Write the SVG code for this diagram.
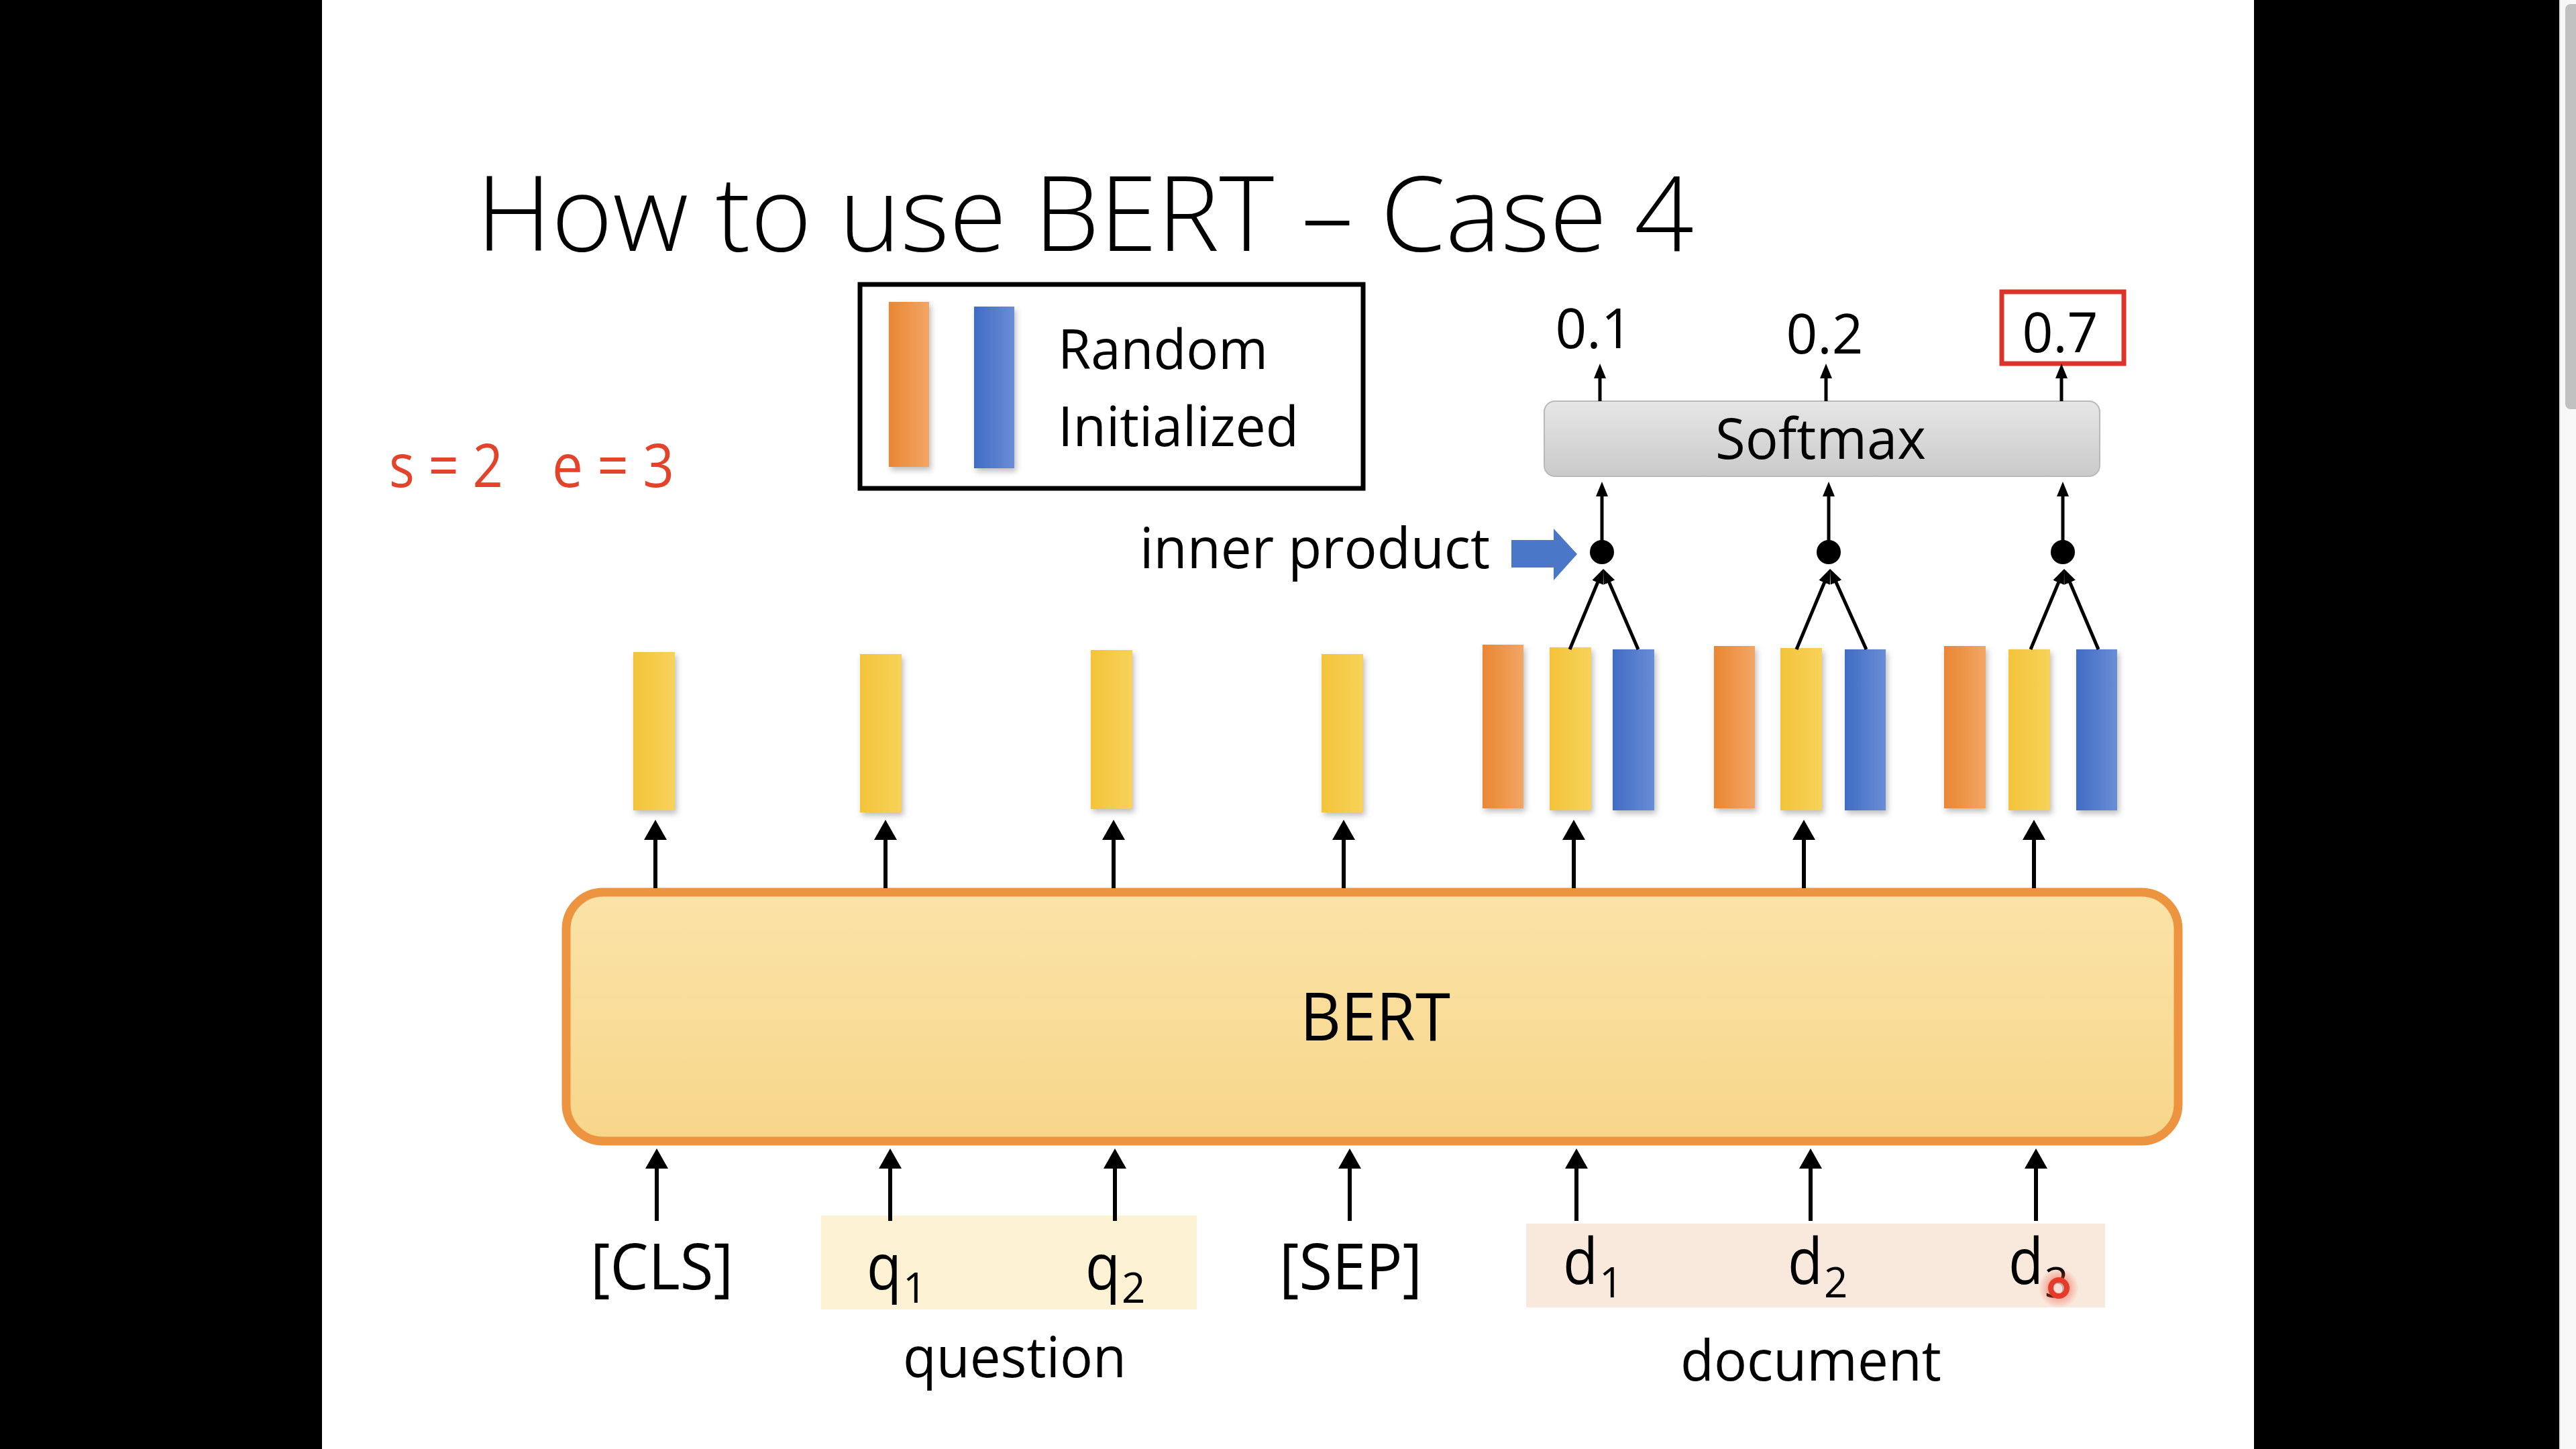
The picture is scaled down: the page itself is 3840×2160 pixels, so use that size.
<svg xmlns="http://www.w3.org/2000/svg" width="3840" height="2160" viewBox="0 0 3840 2160">
<defs>
<style>
.t{font-family:"Open Sans","Liberation Sans",sans-serif;fill:#000}
.ln{stroke:#000;stroke-width:6;fill:none}
.ls{stroke:#000;stroke-width:5;fill:none}
.bar{filter:url(#sh)}
</style>
<linearGradient id="gy" x1="0" y1="0" x2="1" y2="0"><stop offset="0" stop-color="#f3c43a"/><stop offset="1" stop-color="#f7d25a"/></linearGradient>
<linearGradient id="go" x1="0" y1="0" x2="1" y2="0"><stop offset="0" stop-color="#ea8633"/><stop offset="1" stop-color="#f2a665"/></linearGradient>
<linearGradient id="gb" x1="0" y1="0" x2="1" y2="0"><stop offset="0" stop-color="#406cc4"/><stop offset="1" stop-color="#6a8dd5"/></linearGradient>
<linearGradient id="gs" x1="0" y1="0" x2="0" y2="1"><stop offset="0" stop-color="#e6e6e6"/><stop offset="1" stop-color="#cacaca"/></linearGradient>
<linearGradient id="gbert" x1="0" y1="0" x2="0" y2="1"><stop offset="0" stop-color="#fae3a8"/><stop offset="1" stop-color="#f7d689"/></linearGradient>
<filter id="sh" x="-40%" y="-10%" width="180%" height="130%"><feDropShadow dx="3" dy="5" stdDeviation="4" flood-color="#000" flood-opacity="0.25"/></filter>
<radialGradient id="glow"><stop offset="0.5" stop-color="#f05a48" stop-opacity="0.45"/><stop offset="1" stop-color="#f05a48" stop-opacity="0"/></radialGradient>
<marker id="ah" markerUnits="userSpaceOnUse" markerWidth="30" markerHeight="34" refX="15" refY="17" orient="auto"><path d="M0,0 L30,17 L0,34 z" fill="#000"/></marker>
<marker id="as" markerUnits="userSpaceOnUse" markerWidth="22" markerHeight="18" refX="11" refY="9" orient="auto"><path d="M0,0 L22,9 L0,18 z" fill="#000"/></marker>
</defs>

<!-- frame -->
<rect x="0" y="0" width="3840" height="2160" fill="#000"/>
<rect x="480" y="0" width="2880" height="2160" fill="#fff"/>
<g id="scrollbar">
<rect x="3815" y="0" width="25" height="2160" fill="#f8f8f8"/>
<line x1="3816" y1="0" x2="3816" y2="2160" stroke="#e4e4e4" stroke-width="2"/>
<rect x="3824" y="6" width="26" height="604" rx="8" fill="#c1c1c1"/>
</g>

<g id="title"><text class="t" x="710" y="374" font-size="155" font-weight="300" textLength="1815" lengthAdjust="spacingAndGlyphs">How to use BERT – Case 4</text></g>

<g id="params">
<text class="t" x="580" y="726" font-size="90" style="fill:#e2432a" textLength="170" lengthAdjust="spacingAndGlyphs">s = 2</text>
<text class="t" x="823" y="726" font-size="90" style="fill:#e2432a" textLength="182" lengthAdjust="spacingAndGlyphs">e = 3</text>
</g>

<g id="legend">
<rect x="1282" y="424" width="750" height="304" fill="#fff" stroke="#000" stroke-width="7"/>
<rect class="bar" x="1325" y="450" width="60" height="246" fill="url(#go)"/>
<rect class="bar" x="1452" y="457" width="60" height="241" fill="url(#gb)"/>
<text class="t" x="1577" y="550" font-size="83" textLength="313" lengthAdjust="spacingAndGlyphs">Random</text>
<text class="t" x="1577" y="665" font-size="83" textLength="359" lengthAdjust="spacingAndGlyphs">Initialized</text>
</g>

<g id="outputs">
<text class="t" x="2376" y="519" font-size="82" text-anchor="middle" textLength="115" lengthAdjust="spacingAndGlyphs">0.1</text>
<text class="t" x="2720" y="527" font-size="82" text-anchor="middle" textLength="115" lengthAdjust="spacingAndGlyphs">0.2</text>
<rect x="2984" y="435" width="182" height="107" fill="none" stroke="#d9352a" stroke-width="7"/>
<text class="t" x="3071" y="525" font-size="82" text-anchor="middle" textLength="113" lengthAdjust="spacingAndGlyphs">0.7</text>
</g>

<g id="softmax">
<rect x="2302" y="598" width="828" height="112" rx="16" fill="url(#gs)" stroke="#b9b9b9" stroke-width="2"/>
<text class="t" x="2714" y="684" font-size="85" text-anchor="middle" textLength="314" lengthAdjust="spacingAndGlyphs">Softmax</text>
</g>

<g id="inner-product">
<text class="t" x="1699" y="847" font-size="85" textLength="522" lengthAdjust="spacingAndGlyphs">inner product</text>
<polygon points="2253,805 2316,805 2316,788 2351,826 2316,865 2316,846 2253,846" fill="#4a77c8"/>
</g>

<g id="dots">
<circle cx="2388" cy="823" r="18" fill="#000"/>
<circle cx="2726" cy="823" r="18" fill="#000"/>
<circle cx="3075" cy="823" r="18" fill="#000"/>
</g>

<g id="bars">
<rect class="bar" x="944" y="972" width="62" height="236" fill="url(#gy)"/>
<rect class="bar" x="1282" y="975" width="62" height="236" fill="url(#gy)"/>
<rect class="bar" x="1626" y="969" width="62" height="237" fill="url(#gy)"/>
<rect class="bar" x="1970" y="975" width="62" height="236" fill="url(#gy)"/>
<rect class="bar" x="2210" y="961" width="61" height="244" fill="url(#go)"/>
<rect class="bar" x="2310" y="965" width="62" height="243" fill="url(#gy)"/>
<rect class="bar" x="2404" y="968" width="62" height="240" fill="url(#gb)"/>
<rect class="bar" x="2555" y="963" width="61" height="242" fill="url(#go)"/>
<rect class="bar" x="2654" y="966" width="62" height="242" fill="url(#gy)"/>
<rect class="bar" x="2750" y="968" width="61" height="240" fill="url(#gb)"/>
<rect class="bar" x="2898" y="963" width="62" height="242" fill="url(#go)"/>
<rect class="bar" x="2994" y="968" width="62" height="240" fill="url(#gy)"/>
<rect class="bar" x="3095" y="968" width="61" height="240" fill="url(#gb)"/>
</g>

<g id="bert">
<rect x="844" y="1330" width="2403" height="371" rx="55" fill="url(#gbert)" stroke="#ed9440" stroke-width="13"/>
<text class="t" x="2050" y="1551" font-size="98" text-anchor="middle" textLength="224" lengthAdjust="spacingAndGlyphs">BERT</text>
</g>

<g id="question">
<rect x="1224" y="1812" width="560" height="140" fill="#fdf2d3"/>
<text class="t" x="1292" y="1922" font-size="95" textLength="52" lengthAdjust="spacingAndGlyphs">q</text>
<text class="t" x="1346" y="1942" font-size="62">1</text>
<text class="t" x="1618" y="1922" font-size="95" textLength="52" lengthAdjust="spacingAndGlyphs">q</text>
<text class="t" x="1672" y="1942" font-size="62">2</text>
<text class="t" x="1346" y="2053" font-size="85" textLength="333" lengthAdjust="spacingAndGlyphs">question</text>
</g>

<g id="cls"><text class="t" x="880" y="1922" font-size="95" textLength="213" lengthAdjust="spacingAndGlyphs">[CLS]</text></g>
<g id="sep"><text class="t" x="1907" y="1922" font-size="95" textLength="213" lengthAdjust="spacingAndGlyphs">[SEP]</text></g>

<g id="document">
<rect x="2275" y="1824" width="863" height="125" fill="#f9e9dc"/>
<text class="t" x="2330" y="1914" font-size="95" textLength="52" lengthAdjust="spacingAndGlyphs">d</text>
<text class="t" x="2384" y="1934" font-size="62">1</text>
<text class="t" x="2665" y="1914" font-size="95" textLength="52" lengthAdjust="spacingAndGlyphs">d</text>
<text class="t" x="2719" y="1934" font-size="62">2</text>
<text class="t" x="2994" y="1914" font-size="95" textLength="52" lengthAdjust="spacingAndGlyphs">d</text>
<text class="t" x="3048" y="1934" font-size="62">3</text>
<text class="t" x="2505" y="2058" font-size="85" textLength="389" lengthAdjust="spacingAndGlyphs">document</text>
</g>

<g id="pointer">
<circle cx="3069" cy="1920" r="30" fill="url(#glow)"/>
<circle cx="3069" cy="1920" r="12" fill="#fff" fill-opacity="0.6" stroke="#e53b2b" stroke-width="8"/>
</g>

<g id="connectors">
<line class="ln" x1="979" y1="1820" x2="979" y2="1727" marker-end="url(#ah)"/>
<line class="ln" x1="1327" y1="1820" x2="1327" y2="1727" marker-end="url(#ah)"/>
<line class="ln" x1="1662" y1="1820" x2="1662" y2="1727" marker-end="url(#ah)"/>
<line class="ln" x1="2012" y1="1820" x2="2012" y2="1727" marker-end="url(#ah)"/>
<line class="ln" x1="2350" y1="1820" x2="2350" y2="1727" marker-end="url(#ah)"/>
<line class="ln" x1="2699" y1="1820" x2="2699" y2="1727" marker-end="url(#ah)"/>
<line class="ln" x1="3035" y1="1820" x2="3035" y2="1727" marker-end="url(#ah)"/>

<line class="ln" x1="977" y1="1324" x2="977" y2="1237" marker-end="url(#ah)"/>
<line class="ln" x1="1320" y1="1324" x2="1320" y2="1237" marker-end="url(#ah)"/>
<line class="ln" x1="1660" y1="1324" x2="1660" y2="1237" marker-end="url(#ah)"/>
<line class="ln" x1="2003" y1="1324" x2="2003" y2="1237" marker-end="url(#ah)"/>
<line class="ln" x1="2346" y1="1324" x2="2346" y2="1237" marker-end="url(#ah)"/>
<line class="ln" x1="2689" y1="1324" x2="2689" y2="1237" marker-end="url(#ah)"/>
<line class="ln" x1="3032" y1="1324" x2="3032" y2="1237" marker-end="url(#ah)"/>

<line class="ls" x1="2340" y1="968" x2="2385.8" y2="858.2" marker-end="url(#as)"/>
<line class="ls" x1="2442" y1="968" x2="2394.4" y2="858.1" marker-end="url(#as)"/>
<line class="ls" x1="2678" y1="968" x2="2723.8" y2="858.2" marker-end="url(#as)"/>
<line class="ls" x1="2782" y1="968" x2="2732.5" y2="858" marker-end="url(#as)"/>
<line class="ls" x1="3027" y1="968" x2="3072.8" y2="858.2" marker-end="url(#as)"/>
<line class="ls" x1="3128" y1="968" x2="3081.3" y2="858.1" marker-end="url(#as)"/>

<line class="ls" x1="2388" y1="823" x2="2388" y2="729" marker-end="url(#as)"/>
<line class="ls" x1="2726" y1="823" x2="2726" y2="729" marker-end="url(#as)"/>
<line class="ls" x1="3075" y1="823" x2="3075" y2="729" marker-end="url(#as)"/>

<line class="ls" x1="2385" y1="598" x2="2385" y2="553" marker-end="url(#as)"/>
<line class="ls" x1="2722" y1="598" x2="2722" y2="553" marker-end="url(#as)"/>
<line class="ls" x1="3073" y1="598" x2="3073" y2="553" marker-end="url(#as)"/>
</g>
</svg>
